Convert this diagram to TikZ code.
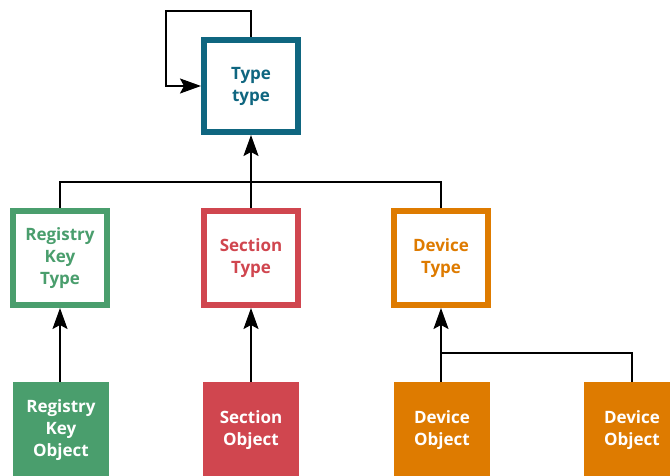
\documentclass[tikz,border=0pt]{standalone}
\usepackage{fontspec}
\setmainfont{Open Sans}
\usetikzlibrary{arrows.meta}
\definecolor{tealc}{HTML}{0F6680}
\definecolor{greenc}{HTML}{4A9E6D}
\definecolor{redc}{HTML}{D0464F}
\definecolor{orangec}{HTML}{DE7B00}
\tikzset{
  lbl/.style={font=\fontsize{17}{22}\selectfont\bfseries, align=center, inner sep=0pt},
  typebox/.style={lbl, draw=#1, text=#1, line width=6pt, fill=white,
    minimum width=94pt, minimum height=94pt},
  objbox/.style={lbl, fill=#1, text=white, minimum width=96pt, minimum height=96pt},
  wire/.style={line width=2pt, black},
  arrow/.style={wire, -{Stealth[length=21pt, width=15pt, inset=4pt]}},
}
\begin{document}
\begin{tikzpicture}[x=1pt, y=-1pt]
  \useasboundingbox (0,0) rectangle (670,476);
  \clip (0,0) rectangle (670,476);

  % type objects
  \node[typebox=tealc, minimum height=92pt] (tt) at (251,86) {Type\\type};
  \node[typebox=greenc] (rkt) at (60,258) {Registry\\Key\\Type};
  \node[typebox=redc] (st) at (251,258) {Section\\Type};
  \node[typebox=orangec] (dt) at (441,258) {Device\\Type};

  % instances
  \node[objbox=greenc] (rko) at (61,430) {Registry\\Key\\Object};
  \node[objbox=redc] (so) at (251,430) {Section\\Object};
  \node[objbox=orangec] (do1) at (442,430) {Device\\Object};
  \node[objbox=orangec] (do2) at (632,430) {Device\\Object};

  % junction points
  \coordinate (loop) at (166,11);
  \coordinate (tj) at (251,182);
  \coordinate (dj) at (441,353);

  % self reference of the type type
  \draw[arrow] (tt.north) |- (loop) |- (tt.west);

  % type objects point to the type type
  \draw[wire] (rkt.north) |- (tj) -| (dt.north);
  \draw[arrow] (st.north) -- (tt.south);

  % instances point to their types
  \draw[arrow] (rko.north -| rkt.south) -- (rkt.south);
  \draw[arrow] (so.north) -- (st.south);
  \draw[arrow] (dj |- do1.north) -- (dt.south);
  \draw[wire] (do2.north) |- (dj);
\end{tikzpicture}
\end{document}
